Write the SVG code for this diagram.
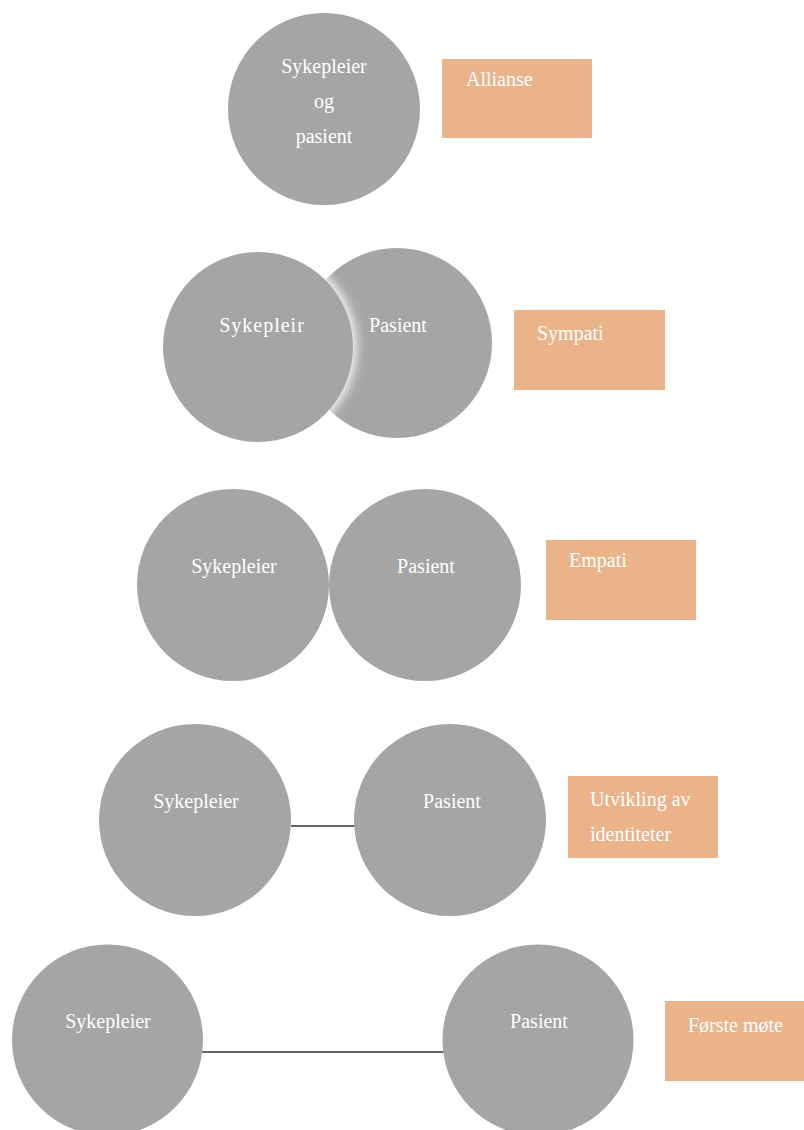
<svg xmlns="http://www.w3.org/2000/svg" width="804" height="1130" viewBox="0 0 804 1130">
<style>
.c{fill:#A5A5A5}
.r{fill:#EBB38A}
.t{font-family:"Liberation Serif","Times New Roman",serif;font-size:20px;fill:#FFFFFF}
.m{text-anchor:middle}
.l{stroke:#333333;stroke-width:1.5;fill:none}
</style>
<defs>
<filter id="glow" x="-20%" y="-20%" width="140%" height="140%"><feGaussianBlur stdDeviation="6"/></filter>
<clipPath id="clipP"><circle cx="397" cy="343" r="95"/></clipPath>
</defs>
<rect width="804" height="1130" fill="#FFFFFF"/>

<g id="row1-circle"><circle class="c" cx="324" cy="109" r="96"/>
<text class="t m" x="324" y="73">Sykepleier</text>
<text class="t m" x="324" y="108">og</text>
<text class="t m" x="324" y="143">pasient</text></g>
<g id="row1-label"><rect class="r" x="442" y="59" width="150" height="79"/><text class="t" x="466" y="86">Allianse</text></g>

<g id="row2-pasient"><circle class="c" cx="397" cy="343" r="95"/>
<circle cx="258" cy="347" r="98" fill="#FFFFFF" filter="url(#glow)" clip-path="url(#clipP)"/>
<text class="t m" x="398" y="332">Pasient</text></g>
<g id="row2-sykepleier"><circle class="c" cx="258" cy="347" r="95"/>
<text class="t m" x="262" y="332" letter-spacing="1">Sykepleir</text></g>
<g id="row2-label"><rect class="r" x="514" y="310" width="151" height="80"/><text class="t" x="537" y="340">Sympati</text></g>

<g id="row3-sykepleier"><circle class="c" cx="233" cy="585" r="96"/><text class="t m" x="234" y="573">Sykepleier</text></g>
<g id="row3-pasient"><circle class="c" cx="425" cy="585" r="96"/><text class="t m" x="426" y="573">Pasient</text></g>
<g id="row3-label"><rect class="r" x="546" y="540" width="150" height="80"/><text class="t" x="569" y="567">Empati</text></g>

<g id="connectors">
<line class="l" x1="291" y1="826" x2="355" y2="826"/>
<line class="l" x1="202" y1="1052" x2="444" y2="1052"/>
</g>

<g id="row4-sykepleier"><circle class="c" cx="195" cy="820" r="96"/><text class="t m" x="196" y="808">Sykepleier</text></g>
<g id="row4-pasient"><circle class="c" cx="450" cy="820" r="96"/><text class="t m" x="452" y="808">Pasient</text></g>
<g id="row4-label"><rect class="r" x="568" y="776" width="150" height="82"/>
<text class="t" x="590" y="806">Utvikling av</text><text class="t" x="590" y="841">identiteter</text></g>

<g id="row5-sykepleier"><circle class="c" cx="107.5" cy="1040" r="95.5"/><text class="t m" x="108" y="1028">Sykepleier</text></g>
<g id="row5-pasient"><circle class="c" cx="538" cy="1040" r="95.5"/><text class="t m" x="539" y="1028">Pasient</text></g>
<g id="row5-label"><rect class="r" x="665" y="1001" width="150" height="80"/><text class="t" x="688" y="1032">Første møte</text></g>
</svg>
